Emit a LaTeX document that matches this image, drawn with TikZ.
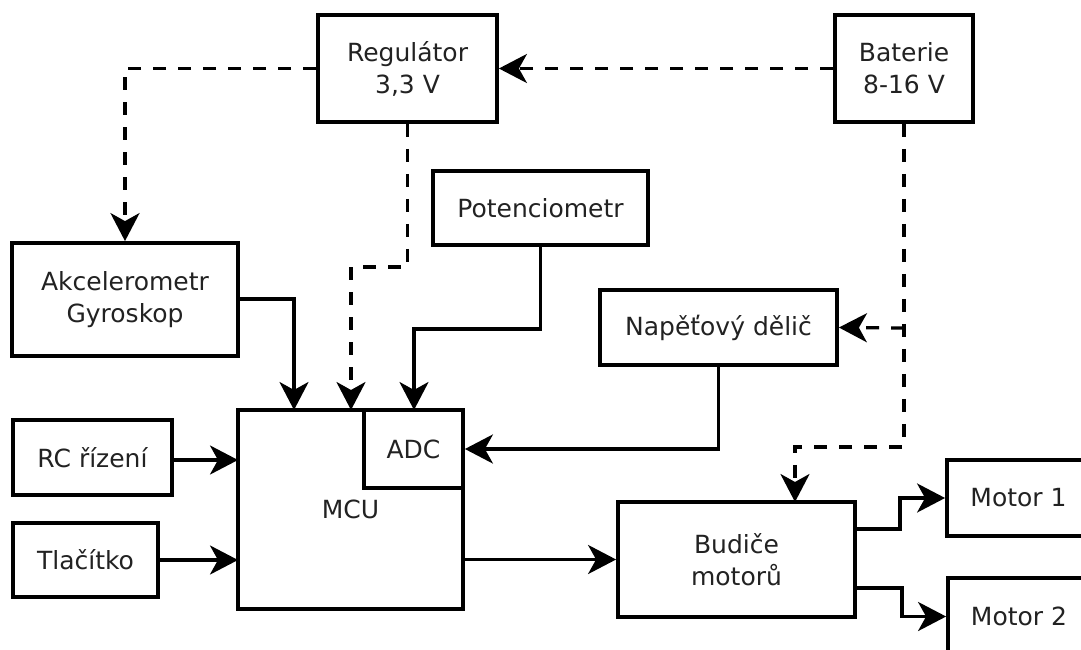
\documentclass[tikz,border=0pt]{standalone}
\usepackage{fontspec}
\setmainfont{DejaVu Sans}
\usetikzlibrary{arrows.meta}
\definecolor{txt}{HTML}{222222}
\tikzset{
  box/.style={draw=black, line width=3.8pt, fill=white, inner sep=0pt, align=center,
    text=txt, font=\fontsize{25}{32}\selectfont},
  sline/.style={line width=3.3pt, -{Stealth[length=28pt,width=29pt,inset=8pt]}},
  dline/.style={sline, dash pattern=on 13pt off 12pt}
}
\begin{document}
\begin{tikzpicture}[x=1pt,y=-1pt]
\useasboundingbox (0,0) rectangle (1081,650);
\clip (0,0) rectangle (1081,650);
% helper coordinates
\coordinate (mcuAcc) at (294,410);
\coordinate (mcuReg) at (351,410);
\coordinate (mcuPot) at (414,410);
\coordinate (regBend) at (407.5,267);
\coordinate (potBend) at (540.5,329);
\coordinate (batBend) at (904,447);
\coordinate (batSplit) at (904,328);
\coordinate (budIn) at (795,502);
\coordinate (rcIn) at (238,460);
\coordinate (tlaIn) at (238,560);
\coordinate (budO1) at (855,529);
\coordinate (budO2) at (855,588);
\coordinate (b1) at (900,529);
\coordinate (b2) at (902,588);
% boxes
\node[box, minimum width=179pt, minimum height=107pt] (reg) at (407.5,68.5) {Regulátor\\3,3 V};
\node[box, minimum width=138pt, minimum height=107pt] (bat) at (904,68.5) {Baterie\\8-16 V};
\node[box, minimum width=226pt, minimum height=113pt] (acc) at (125,299.5) {Akcelerometr\\Gyroskop};
\node[box, minimum width=215pt, minimum height=74pt] (pot) at (540.5,208) {Potenciometr};
\node[box, minimum width=237pt, minimum height=75pt] (nap) at (718.5,327.5) {Napěťový dělič};
\node[box, minimum width=159pt, minimum height=75pt] (rc) at (92.5,457.5) {RC řízení};
\node[box, minimum width=145pt, minimum height=74pt] (tla) at (85.5,560) {Tlačítko};
\node[box, minimum width=225pt, minimum height=199pt] (mcu) at (350.5,509.5) {MCU};
\node[box, minimum width=99pt, minimum height=78pt] (adc) at (413.5,449) {ADC};
\node[box, minimum width=237pt, minimum height=115pt] (bud) at (736.5,559.5) {Budiče\\motorů};
\node[box, minimum width=143pt, minimum height=76pt] (m1) at (1018.5,498) {Motor 1};
\node[box, minimum width=142pt, minimum height=77pt] (m2) at (1019,616.5) {Motor 2};
% dashed power lines
\draw[dline] (reg.west) -| (acc.north);
\draw[dline] (bat.west) -- (reg.east);
\draw[dline] (reg.south) -- (regBend) -| (mcuReg);
\draw[dline] (bat.south) -- (batBend) -| (budIn);
\draw[dline] (batSplit) -- (nap.east);
% signal lines
\draw[sline] (acc.east |- 0,299) -| (mcuAcc);
\draw[sline] (pot.south) -- (potBend) -| (mcuPot);
\draw[sline] (nap.south) |- (adc.east);
\draw[sline] (rc.east |- rcIn) -- (rcIn);
\draw[sline] (tla.east) -- (tlaIn);
\draw[sline] (mcu.east |- bud.west) -- (bud.west);
\draw[sline] (budO1) -- (b1) |- (m1.west);
\draw[sline] (budO2) -- (b2) |- (m2.west);
\end{tikzpicture}
\end{document}
